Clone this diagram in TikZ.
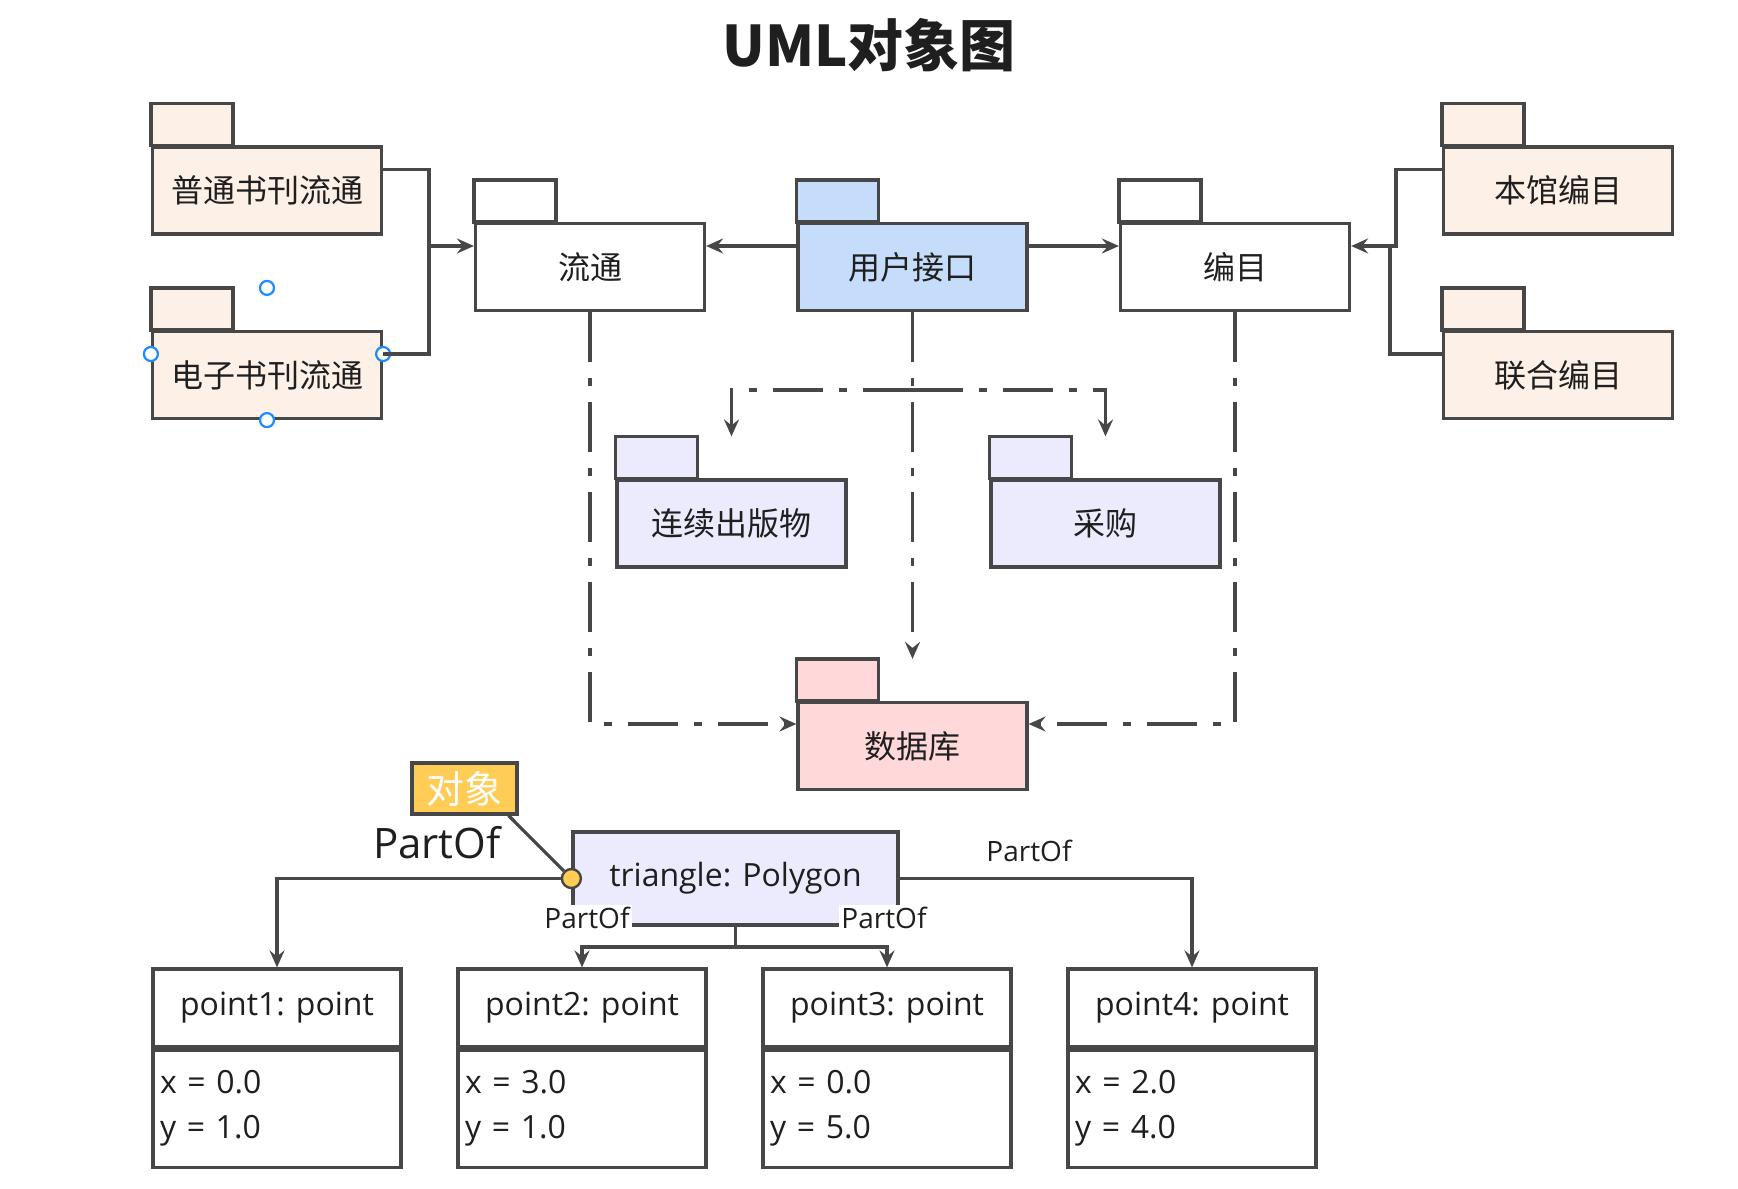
\documentclass[tikz,border=0pt]{standalone}
\usepackage{fontspec}
\setmainfont{Open Sans}
\newfontfamily\cjk{Noto Sans CJK SC}
\usetikzlibrary{positioning,arrows.meta}

\definecolor{linegray}{HTML}{474747}
\definecolor{textblack}{HTML}{1F1F1F}
\definecolor{peach}{HTML}{FDF0E7}
\definecolor{uiblue}{HTML}{C6DCFB}
\definecolor{lav}{HTML}{EBEBFD}
\definecolor{pinkdb}{HTML}{FFD9D9}
\definecolor{gold}{HTML}{FFCC55}
\definecolor{handleblue}{HTML}{1A8CFF}

\begin{document}
\begin{tikzpicture}
[x=0.5pt,y=-0.5pt,
pkg/.style={draw=linegray,line width=1.6pt,minimum width=114.5pt,minimum height=43.5pt,
  inner sep=0pt,text=textblack,font=\cjk\fontsize{16}{19}\selectfont},
conn/.style={draw=linegray,line width=1.6pt},
arr/.style={-{Stealth[length=8.5pt,width=7.5pt,inset=3pt]}},
ddash/.style={conn,dash pattern=on 25pt off 8pt on 4pt off 8pt},
obj/.style={draw=linegray,line width=1.6pt,minimum width=124pt,inner sep=0pt,
  text=textblack,font=\fontsize{16}{19}\selectfont},
attr/.style={obj,minimum height=58.5pt,align=left,text width=117pt,
  font=\fontsize{16}{22.5}\selectfont},
lbl/.style={inner sep=1pt,text=textblack,font=\fontsize{14}{16}\selectfont}]
\useasboundingbox (0,0) rectangle (1738,1188);

\node[text=textblack,font=\cjk\bfseries\fontsize{28}{34}\selectfont](title) at (869,45){UML对象图};

% packages
\node[pkg,fill=peach](ptlt) at (267,190.5){普通书刊流通};
\node[pkg,fill=peach](dzlt) at (267,375){电子书刊流通};
\node[pkg,fill=white](lt) at (590,267){流通};
\node[pkg,fill=uiblue](ui) at (912.5,267){用户接口};
\node[pkg,fill=white](bm) at (1235,267){编目};
\node[pkg,fill=peach](bgbm) at (1558,190.5){本馆编目};
\node[pkg,fill=peach](lhbm) at (1558,375){联合编目};
\node[pkg,fill=lav](lxcb) at (731.5,523.5){连续出版物};
\node[pkg,fill=lav](cg) at (1105.5,523.5){采购};
\node[pkg,fill=pinkdb](db) at (912.5,746){数据库};
\foreach \n/\c in {ptlt/peach,dzlt/peach,lt/white,ui/uiblue,bm/white,bgbm/peach,
  lhbm/peach,lxcb/lav,cg/lav,db/pinkdb}
  \draw[conn,fill=\c] (\n.north west) rectangle ++(82,-42);

% selection handles
\foreach \p in {([yshift=10.5pt]dzlt.west),([yshift=10.5pt]dzlt.east),(dzlt.south),
  ([yshift=21pt]dzlt.north)}
  \draw[handleblue,line width=1.1pt,fill=white] \p circle[radius=3.5pt];

\coordinate (ljoin) at (429,246);
\coordinate (rjoin) at (1390,246);
\coordinate (br) at (912.5,390);

\draw[conn] ([yshift=10.5pt]ptlt.east) -| (ljoin) |- ([yshift=10.5pt]dzlt.east);
\draw[conn,arr] (ljoin) -- ([yshift=10.5pt]lt.west);
\draw[conn,arr] ([yshift=10.5pt]ui.west) -- ([yshift=10.5pt]lt.east);
\draw[conn,arr] ([yshift=10.5pt]ui.east) -- ([yshift=10.5pt]bm.west);
\draw[conn] ([yshift=10.5pt]bgbm.west) -| ([xshift=3pt]rjoin) -- (rjoin);
\draw[conn] (rjoin) |- ([yshift=10.5pt]lhbm.west);
\draw[conn,arr] (rjoin) -- ([yshift=10.5pt]bm.east);

\draw[ddash,arr] (lt.south) |- ([yshift=11pt]db.west);
\draw[ddash,arr] (bm.south) |- ([yshift=11pt]db.east);
\draw[ddash,arr] (ui.south) -- ([yshift=21pt]db.north);
\draw[ddash,arr] (br) -| ([yshift=21pt]lxcb.north);
\draw[ddash,arr] (br) -| ([yshift=21pt]cg.north);

% objects
\node[obj,fill=lav,minimum width=162.5pt,minimum height=46.5pt](poly) at (735.5,878.5){triangle: Polygon};
\node[circle,draw=linegray,fill=gold,line width=1.2pt,minimum size=9.5pt,inner sep=0pt](dot) at (poly.west){};
\node[draw=linegray,fill=gold,line width=1.6pt,minimum width=52.5pt,minimum height=25.5pt,
  inner sep=0pt,text=white,font=\cjk\fontsize{19}{22}\selectfont](dx) at (464.5,788.5){对象};
\draw[conn] ([xshift=-5pt]dx.south east) -- (dot);
\node[text=textblack,font=\fontsize{21}{24}\selectfont](po0) at (437,843){PartOf};

\node[obj,minimum height=39pt](p1) at (277,1008){point1: point};
\node[attr,below=0pt of p1](p1a){x = 0.0\\y = 1.0};
\node[obj,minimum height=39pt](p2) at (582,1008){point2: point};
\node[attr,below=0pt of p2](p2a){x = 3.0\\y = 1.0};
\node[obj,minimum height=39pt](p3) at (887,1008){point3: point};
\node[attr,below=0pt of p3](p3a){x = 0.0\\y = 5.0};
\node[obj,minimum height=39pt](p4) at (1192,1008){point4: point};
\node[attr,below=0pt of p4](p4a){x = 2.0\\y = 4.0};

\coordinate (pj) at (735.5,947);
\draw[conn,arr] (dot) -| (p1.north);
\draw[conn,arr] (poly.east) -| (p4.north);
\draw[conn] (poly.south) -- (pj);
\draw[conn,arr] (pj) -| (p2.north);
\draw[conn,arr] (pj) -| (p3.north);

\node[lbl,fill=white](po1) at (587,918){PartOf};
\node[lbl,fill=white](po2) at (884,918){PartOf};
\node[lbl](po3) at (1029,851){PartOf};
\end{tikzpicture}
\end{document}
